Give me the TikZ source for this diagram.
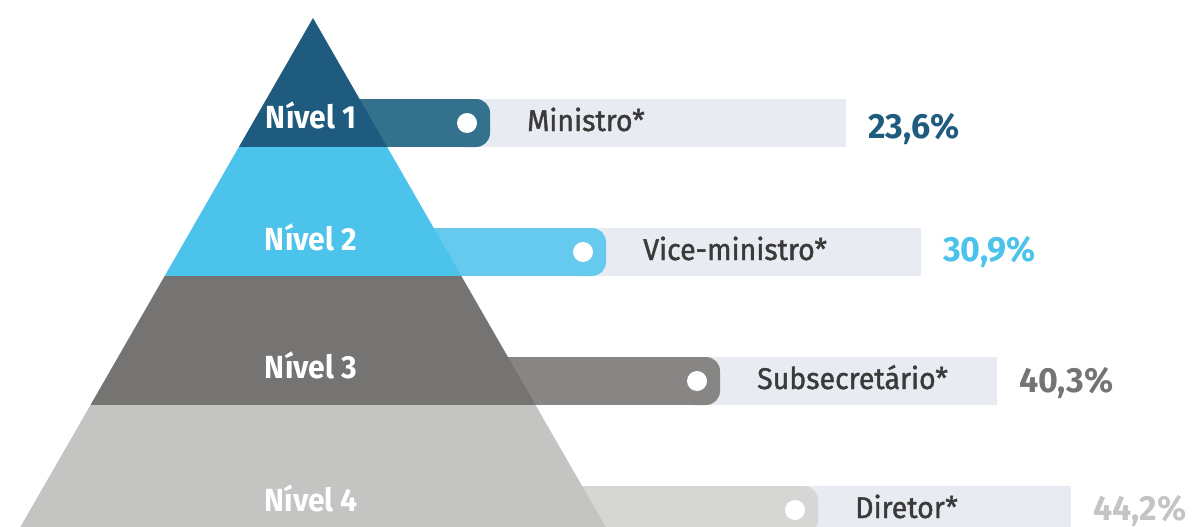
\documentclass[tikz,border=0pt]{standalone}
\usepackage{fontspec}
\setmainfont{Fira Sans}[FakeStretch=0.94]
\newfontfamily\medio{Fira Sans}[FakeStretch=0.95, FakeBold=1.3]
\newfontfamily\cifra{Fira Sans}[FakeStretch=0.97]

\definecolor{nivelA}{HTML}{1F5B7F}
\definecolor{nivelB}{HTML}{4BC3EB}
\definecolor{nivelC}{HTML}{757472}
\definecolor{nivelD}{HTML}{C4C4C2}
\definecolor{barraA}{HTML}{33718D}
\definecolor{barraB}{HTML}{66CAEE}
\definecolor{barraC}{HTML}{878685}
\definecolor{barraD}{HTML}{D6D6D5}
\definecolor{fundo}{HTML}{E9EBF2}
\definecolor{texto}{HTML}{3A3A3A}

\tikzset{
  nivel/.style={anchor=base, inner sep=0, text=white, font=\bfseries\fontsize{32}{38}\selectfont},
  cargo/.style={anchor=base west, inner sep=0, text=texto, font=\medio\fontsize{30}{36}\selectfont},
  pct/.style={anchor=base west, inner sep=0, font=\cifra\bfseries\fontsize{35}{42}\selectfont}
}

\begin{document}
\begin{tikzpicture}[x=1pt,y=-1pt]
\useasboundingbox (0,0) rectangle (1194,527);
\clip (0,0) rectangle (1194,527);
% bars (behind the pyramid)
\foreach \k/\yt/\xe/\xl/\cb in {1/99/490/846/barraA, 2/228/606/921/barraB, 3/357/720/997/barraC, 4/486/818/1071/barraD} {
 \fill[fundo] (\xe-30,\yt) rectangle (\xl,\yt+48);
 \fill[\cb] (313+0.575*\yt-0.575*18-5,\yt) rectangle (\xe-20,\yt+48);
 \fill[\cb, rounded corners=14pt] (\xe-40,\yt) rectangle (\xe,\yt+48);
 \fill[white] (\xe-23,\yt+24) circle (10);
}
% pyramid, one slice per level
\foreach \ya/\yb/\c in {18/147/nivelA, 147/276/nivelB, 276/405/nivelC, 405/534/nivelD} {
 \fill[\c] (313-0.575*\ya+0.575*18,\ya) -- (313+0.575*\ya-0.575*18,\ya)
   -- (313+0.575*\yb-0.575*18,\yb) -- (313-0.575*\yb+0.575*18,\yb) -- cycle;
}
% labels
\foreach \k/\yn/\yt/\yp/\xe/\xl/\c/\role/\val in {1/128/99/138/490/846/nivelA/Ministro*/{23,6\%},
  2/250/228/261/606/921/nivelB/Vice-ministro*/{30,9\%},
  3/378/357/392/720/997/nivelC/Subsecretário*/{40,3\%},
  4/511/486/520/818/1071/nivelD/Diretor*/{44,2\%}} {
 \node[nivel] (nivel\k) at (311,\yn) {Nível \k};
 \node[cargo] (cargo\k) at (\xe+37,\yt+32) {\role};
 \node[pct, text=\c] (pct\k) at (\xl+22,\yp) {\val};
}
\end{tikzpicture}
\end{document}
